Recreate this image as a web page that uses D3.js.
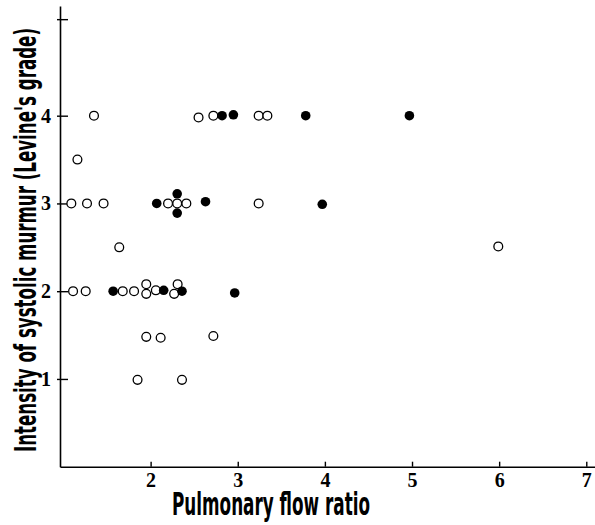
<!DOCTYPE html>
<html>
<head>
<meta charset="utf-8">
<script src="https://cdn.jsdelivr.net/npm/d3@7"></script>
<style>
  body { margin: 0; background: #fff; }
  .tick text { font-family: "Liberation Serif", "DejaVu Serif", serif; font-weight: bold; }
  .lbl { font-family: "Liberation Sans Narrow", "DejaVu Sans Condensed", "Roboto", sans-serif; font-weight: 600; }
</style>
</head>
<body>
<div id="chart"></div>
<script>
// open circles
const openRatio = [1.35, 2.55, 2.72, 3.24, 3.34,
  1.16,
  1.09, 1.27, 1.46, 2.2, 2.305, 2.41, 3.24,
  1.64, 5.99,
  1.11, 1.255, 1.68, 1.81, 1.95, 1.95, 2.06, 2.27, 2.31,
  1.95, 2.115, 2.72,
  1.85, 2.36];
const openGrade = [4, 3.98, 4, 4, 4,
  3.5,
  3, 3, 3, 3, 3, 3, 3,
  2.5, 2.51,
  2, 2, 2, 2, 1.97, 2.08, 2.01, 1.97, 2.08,
  1.48, 1.47, 1.49,
  0.99, 0.99];

// filled circles
const filledRatio = [2.82, 2.95, 3.78, 4.97,
  2.07, 2.305, 2.305, 2.63, 3.97,
  1.57, 2.15, 2.36, 2.965];
const filledGrade = [4, 4.01, 4, 4,
  3, 3.11, 2.89, 3.02, 2.99,
  2, 2.01, 2, 1.98];

const xTicks = [2, 3, 4, 5, 6, 7];
const yTicks = [1, 2, 3, 4, 5.1]; // top tick has no label

const width = 595, height = 525;

const svg = d3.select("#chart")
  .append("svg")
    .attr("width", width)
    .attr("height", height);

const xScale = d3.scaleLinear().domain([0.96, 7.1]).range([60, 595]);
const yScale = d3.scaleLinear().domain([0, 5.25]).range([466.7, 6]);

// x axis
svg.append("g")
    .attr("transform", `translate(0, ${yScale(0)})`)
    .call(d3.axisBottom(xScale)
      .tickValues(xTicks)
      .tickSizeInner(-5)
      .tickSizeOuter(0)
      .tickPadding(6)
      .tickFormat(d3.format("d")))
    .call(g => g.select(".domain").attr("stroke-width", 1.6))
    .call(g => g.selectAll(".tick line").attr("stroke-width", 1.4))
    .call(g => g.selectAll(".tick text").style("font-size", "20px").attr("fill", "#000"));

// y axis, ticks cross the line a little
svg.append("g")
    .attr("transform", `translate(${xScale(0.96)}, 0)`)
    .call(d3.axisLeft(yScale)
      .tickValues(yTicks)
      .tickSizeInner(-9)
      .tickSizeOuter(0)
      .tickPadding(9)
      .tickFormat(d => d > 4.5 ? "" : d3.format("d")(d)))
    .call(g => g.select(".domain").attr("stroke-width", 1.6))
    .call(g => g.selectAll(".tick line").attr("x1", -3).attr("x2", 8).attr("stroke-width", 1.4))
    .call(g => g.selectAll(".tick text").style("font-size", "20px").attr("fill", "#000"));

// points
const openData = openRatio.map((r, i) => ({ ratio: r, grade: openGrade[i] }));
const filledData = filledRatio.map((r, i) => ({ ratio: r, grade: filledGrade[i] }));

svg.append("g")
  .selectAll("circle")
  .data(openData)
  .join("circle")
    .attr("cx", d => xScale(d.ratio))
    .attr("cy", d => yScale(d.grade))
    .attr("r", 4.4)
    .attr("fill", "#fff")
    .attr("stroke", "#000")
    .attr("stroke-width", 1.3);

svg.append("g")
  .selectAll("circle")
  .data(filledData)
  .join("circle")
    .attr("cx", d => xScale(d.ratio))
    .attr("cy", d => yScale(d.grade))
    .attr("r", 4.8)
    .attr("fill", "#000");

// axis titles
svg.append("text")
    .attr("class", "lbl")
    .attr("x", 172)
    .attr("y", 515)
    .attr("textLength", 198)
    .attr("lengthAdjust", "spacingAndGlyphs")
    .style("font-size", "32px")
    .text("Pulmonary flow ratio");

svg.append("text")
    .attr("class", "lbl")
    .attr("transform", "translate(36, 240) rotate(-90)")
    .attr("text-anchor", "middle")
    .attr("textLength", 424)
    .attr("lengthAdjust", "spacingAndGlyphs")
    .style("font-size", "30px")
    .text("Intensity of systolic murmur (Levine's grade)");
</script>
</body>
</html>
